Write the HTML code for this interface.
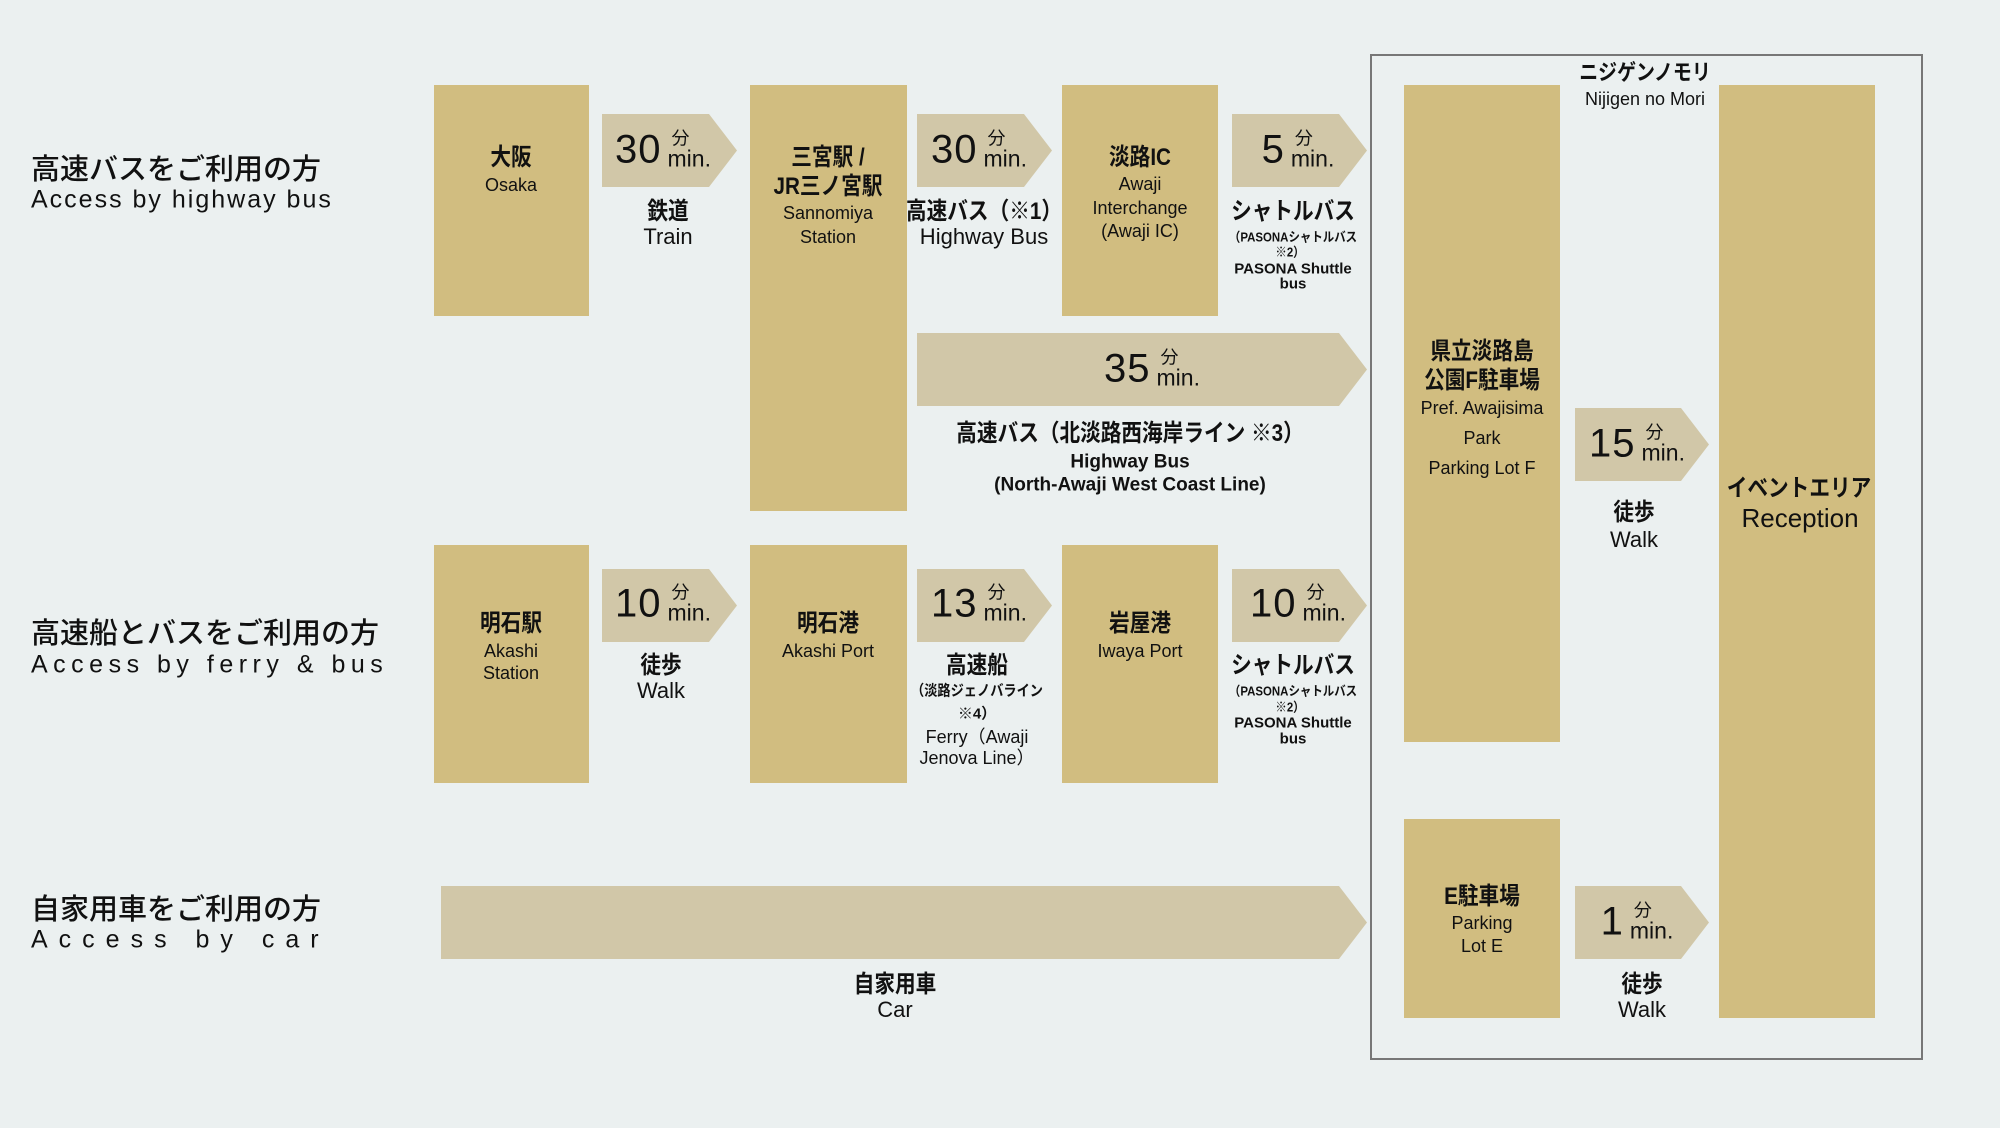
<!DOCTYPE html>
<html><head><meta charset="utf-8">
<style>
*{margin:0;padding:0;box-sizing:border-box}
body{width:2000px;height:1128px;background:#ebf0f0;position:relative;overflow:hidden;font-family:"Liberation Sans","Noto Sans CJK JP",sans-serif;color:#111}
.b{position:absolute;background:#d1bd80}
.a{position:absolute;background:#d1c7a8;clip-path:polygon(0 0,calc(100% - 28px) 0,100% 50%,calc(100% - 28px) 100%,0 100%)}
.t{position:absolute;transform:translate(-50%,-50%);white-space:nowrap;text-align:center;line-height:1}
.j{font-weight:bold;font-size:24px;transform:translate(-50%,-50%) scaleX(.86)}
.e{font-size:18px}
.e2{font-size:22px}
.s{font-size:13px;font-weight:bold;transform:translate(-50%,-50%) scaleX(.88)}
.s2{font-size:15px;font-weight:bold}
.m{position:absolute;display:flex;align-items:center;transform:translate(-50%,-50%);white-space:nowrap}
.m .n{font-size:40px;font-weight:500;letter-spacing:1px}
.m .u{display:flex;flex-direction:column;margin-left:6px;line-height:1}
.m .u span:first-child{font-size:18px;margin-left:4px}
.m .u span:last-child{font-size:23px}
.h1{position:absolute;left:31px;font-size:29px;font-weight:500;transform:translateY(-50%);white-space:nowrap}
.h2{position:absolute;left:31px;font-size:25px;transform:translateY(-50%);white-space:nowrap}
</style></head><body>
<div style="position:absolute;left:1370px;top:54px;width:553px;height:1006px;border:2px solid #777"></div>

<div class="h1" style="top:167px">高速バスをご利用の方</div>
<div class="h2" style="top:200px;letter-spacing:2px">Access by highway bus</div>
<div class="h1" style="top:631px">高速船とバスをご利用の方</div>
<div class="h2" style="top:665px;letter-spacing:5.5px">Access by ferry &amp; bus</div>
<div class="h1" style="top:907px">自家用車をご利用の方</div>
<div class="h2" style="top:940px;letter-spacing:11px">Access by car</div>

<!-- Row 1 -->
<div class="b" style="left:434px;top:85px;width:155px;height:231px"></div>
<div class="t j" style="left:511px;top:158px">大阪</div>
<div class="t e" style="left:511px;top:185px">Osaka</div>

<div class="a" style="left:602px;top:114px;width:135px;height:73px"></div>
<div class="m" style="left:663px;top:150px"><span class="n">30</span><span class="u"><span>分</span><span>min.</span></span></div>
<div class="t j" style="left:668px;top:212px">鉄道</div>
<div class="t e2" style="left:668px;top:237px">Train</div>

<div class="b" style="left:750px;top:85px;width:157px;height:426px"></div>
<div class="t j" style="left:828px;top:158px">三宮駅 /</div>
<div class="t j" style="left:828px;top:187px">JR三ノ宮駅</div>
<div class="t e" style="left:828px;top:213px">Sannomiya</div>
<div class="t e" style="left:828px;top:237px">Station</div>

<div class="a" style="left:917px;top:114px;width:135px;height:73px"></div>
<div class="m" style="left:979px;top:150px"><span class="n">30</span><span class="u"><span>分</span><span>min.</span></span></div>
<div class="t j" style="left:984px;top:212px">高速バス（※1）</div>
<div class="t e2" style="left:984px;top:237px">Highway Bus</div>

<div class="b" style="left:1062px;top:85px;width:156px;height:231px"></div>
<div class="t j" style="left:1140px;top:158px">淡路IC</div>
<div class="t e" style="left:1140px;top:184px">Awaji</div>
<div class="t e" style="left:1140px;top:208px">Interchange</div>
<div class="t e" style="left:1140px;top:231px">(Awaji IC)</div>

<div class="a" style="left:1232px;top:114px;width:135px;height:73px"></div>
<div class="m" style="left:1298px;top:150px"><span class="n">5</span><span class="u"><span>分</span><span>min.</span></span></div>
<div class="t j" style="left:1293px;top:212px">シャトルバス</div>
<div class="t s" style="left:1293px;top:237px">（PASONAシャトルバス</div>
<div class="t s" style="left:1290px;top:252px">※2）</div>
<div class="t s2" style="left:1293px;top:269px">PASONA Shuttle</div>
<div class="t s2" style="left:1293px;top:284px">bus</div>

<div class="a" style="left:917px;top:333px;width:450px;height:73px"></div>
<div class="m" style="left:1152px;top:369px"><span class="n">35</span><span class="u"><span>分</span><span>min.</span></span></div>
<div class="t j" style="left:1130px;top:434px">高速バス（北淡路西海岸ライン ※3）</div>
<div class="t" style="left:1130px;top:462px;font-size:19px;font-weight:bold">Highway Bus</div>
<div class="t" style="left:1130px;top:485px;font-size:19px;font-weight:bold">(North-Awaji West Coast Line)</div>

<!-- Right area -->
<div class="t j" style="left:1645px;top:73px;font-size:22px">ニジゲンノモリ</div>
<div class="t" style="left:1645px;top:99px;font-size:18px;font-weight:500">Nijigen no Mori</div>

<div class="b" style="left:1404px;top:85px;width:156px;height:657px"></div>
<div class="t j" style="left:1482px;top:352px">県立淡路島</div>
<div class="t j" style="left:1482px;top:381px">公園F駐車場</div>
<div class="t e" style="left:1482px;top:408px">Pref. Awajisima</div>
<div class="t e" style="left:1482px;top:438px">Park</div>
<div class="t e" style="left:1482px;top:468px">Parking Lot F</div>

<div class="a" style="left:1575px;top:408px;width:134px;height:73px"></div>
<div class="m" style="left:1637px;top:444px"><span class="n">15</span><span class="u"><span>分</span><span>min.</span></span></div>
<div class="t j" style="left:1634px;top:513px">徒歩</div>
<div class="t e2" style="left:1634px;top:540px">Walk</div>

<div class="b" style="left:1719px;top:85px;width:156px;height:933px"></div>
<div class="t j" style="left:1799px;top:489px">イベントエリア</div>
<div class="t" style="left:1800px;top:518px;font-size:26px">Reception</div>

<div class="b" style="left:1404px;top:819px;width:156px;height:199px"></div>
<div class="t j" style="left:1482px;top:897px">E駐車場</div>
<div class="t e" style="left:1482px;top:923px">Parking</div>
<div class="t e" style="left:1482px;top:946px">Lot E</div>

<div class="a" style="left:1575px;top:886px;width:134px;height:73px"></div>
<div class="m" style="left:1637px;top:922px"><span class="n">1</span><span class="u"><span>分</span><span>min.</span></span></div>
<div class="t j" style="left:1642px;top:985px">徒歩</div>
<div class="t e2" style="left:1642px;top:1010px">Walk</div>

<!-- Row 2 -->
<div class="b" style="left:434px;top:545px;width:155px;height:238px"></div>
<div class="t j" style="left:511px;top:624px">明石駅</div>
<div class="t e" style="left:511px;top:651px">Akashi</div>
<div class="t e" style="left:511px;top:673px">Station</div>

<div class="a" style="left:602px;top:569px;width:135px;height:73px"></div>
<div class="m" style="left:663px;top:604px"><span class="n">10</span><span class="u"><span>分</span><span>min.</span></span></div>
<div class="t j" style="left:661px;top:666px">徒歩</div>
<div class="t e2" style="left:661px;top:691px">Walk</div>

<div class="b" style="left:750px;top:545px;width:157px;height:238px"></div>
<div class="t j" style="left:828px;top:624px">明石港</div>
<div class="t e" style="left:828px;top:651px">Akashi Port</div>

<div class="a" style="left:917px;top:569px;width:135px;height:73px"></div>
<div class="m" style="left:979px;top:604px"><span class="n">13</span><span class="u"><span>分</span><span>min.</span></span></div>
<div class="t j" style="left:977px;top:666px">高速船</div>
<div class="t s" style="left:977px;top:691px;font-size:15px">（淡路ジェノバライン</div>
<div class="t s2" style="left:977px;top:714px">※4）</div>
<div class="t e" style="left:977px;top:737px">Ferry（Awaji</div>
<div class="t e" style="left:977px;top:758px">Jenova Line）</div>

<div class="b" style="left:1062px;top:545px;width:156px;height:238px"></div>
<div class="t j" style="left:1140px;top:624px">岩屋港</div>
<div class="t e" style="left:1140px;top:651px">Iwaya Port</div>

<div class="a" style="left:1232px;top:569px;width:135px;height:73px"></div>
<div class="m" style="left:1298px;top:604px"><span class="n">10</span><span class="u"><span>分</span><span>min.</span></span></div>
<div class="t j" style="left:1293px;top:666px">シャトルバス</div>
<div class="t s" style="left:1293px;top:691px">（PASONAシャトルバス</div>
<div class="t s" style="left:1290px;top:707px">※2）</div>
<div class="t s2" style="left:1293px;top:723px">PASONA Shuttle</div>
<div class="t s2" style="left:1293px;top:739px">bus</div>

<!-- Row 3 -->
<div class="a" style="left:441px;top:886px;width:926px;height:73px"></div>
<div class="t j" style="left:895px;top:985px">自家用車</div>
<div class="t e2" style="left:895px;top:1010px">Car</div>
</body></html>
